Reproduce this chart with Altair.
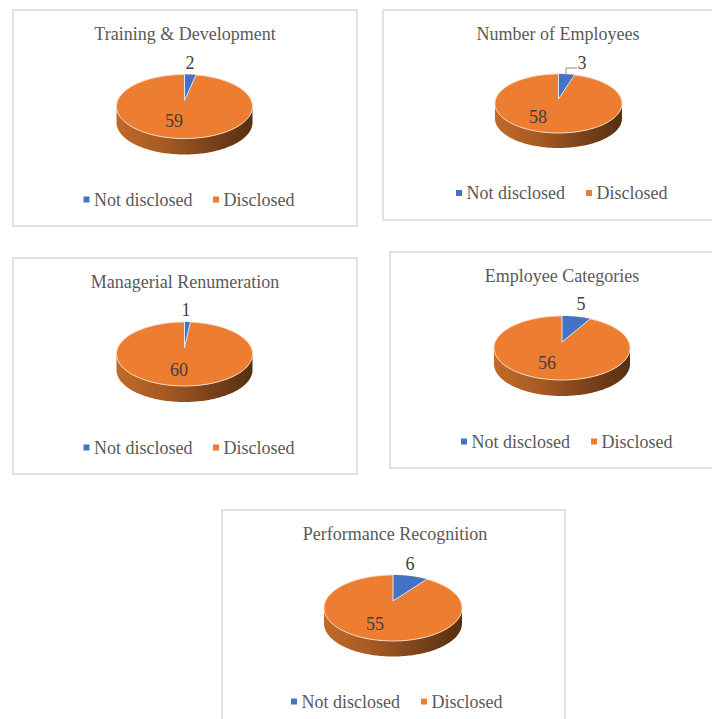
import altair as alt
import numpy as np
import pandas as pd

TITLES = ["Training & Development", "Number of Employees", "Managerial Renumeration",
          "Employee Categories", "Performance Recognition"]
NOT_DISCLOSED = [2, 3, 1, 5, 6]
DISCLOSED = [59, 58, 60, 56, 55]
LEGEND = ["Not disclosed", "Disclosed"]

BLUE = "#4472c4"
ORANGE = "#ed7d31"
GREY = "#595959"
DARK = "#404040"
SERIF = "Liberation Serif"

# layout of each panel, in page pixels
FRAMES = [(13, 10, 357, 226), (383, 10, 724, 220), (13, 258, 357, 474),
          (390, 252, 724, 468), (222, 510, 565, 724)]
PIES = [(184.5, 106.5, 68, 32, 16, 6), (558.5, 103.5, 63.5, 29.5, 15, 4.5),
        (184.5, 354, 68, 32, 16, 6), (562, 348, 68, 32, 16, 6),
        (393, 608, 69, 33, 15.5, 7)]
TITLE_POS = [(185, 33), (558, 33), (185, 281), (562, 275), (395, 533)]
SMALL_POS = [(190, 62), (582, 62), (186, 309), (581, 303), (410, 563)]
LARGE_POS = [(174, 120), (538, 116), (179, 369), (547, 362), (375, 623)]
LEGEND_POS = [(86.5, 216, 199.5), (459, 589, 193), (86.5, 216, 447.5), (464, 594, 441.5), (294, 424, 701.5)]
FORESHORTEN = 0.83

frames, sides, tops, wedges, edges, rims = [], [], [], [], [], []
titles, small, large, legend_txt, legend_sq = [], [], [], [], []
for p in range(5):
    x0, y0, x1, y1 = FRAMES[p]
    frames.append(dict(p=p, x=x0, x2=x1, y=y0, y2=y1))
    cx, cy, rx, ry, d, lift = PIES[p]
    t = np.linspace(-np.pi / 2, np.pi / 2, 121)
    xs = cx + rx * np.sin(t)
    half = ry * np.cos(t)
    for a, b in zip(xs, half):
        sides.append(dict(p=p, x=a, y=cy + b, y2=cy + b + d))
        tops.append(dict(p=p, x=a, y=cy - b, y2=cy + b))
    # blue slice, measured clockwise from 12 o'clock
    share = NOT_DISCLOSED[p] / (NOT_DISCLOSED[p] + DISCLOSED[p])
    theta = 2 * np.pi * share * FORESHORTEN
    ax, ay = cx, cy - lift
    rimx, rimy = cx + rx * np.sin(theta), cy - ry * np.cos(theta)
    for th in np.linspace(0, theta, 40):
        wx = cx + rx * np.sin(th)
        wedges.append(dict(p=p, x=wx, y=cy - ry * np.cos(th),
                           y2=ay + (rimy - ay) * (wx - ax) / (rimx - ax)))
    for i, (ex, ey) in enumerate([(cx, cy - ry), (ax, ay), (rimx, rimy)]):
        edges.append(dict(p=p, i=i, x=ex, y=ey))
    for i, a in enumerate(np.linspace(0, 2 * np.pi, 181)):
        rims.append(dict(p=p, i=i, x=cx + rx * np.sin(a), y=cy - ry * np.cos(a)))
    titles.append(dict(x=TITLE_POS[p][0], y=TITLE_POS[p][1], t=TITLES[p]))
    small.append(dict(x=SMALL_POS[p][0], y=SMALL_POS[p][1], t=str(NOT_DISCLOSED[p])))
    large.append(dict(x=LARGE_POS[p][0], y=LARGE_POS[p][1], t=str(DISCLOSED[p])))
    s1, s2, ly = LEGEND_POS[p]
    legend_sq.append(dict(x=s1, y=ly, c=LEGEND[0]))
    legend_sq.append(dict(x=s2, y=ly, c=LEGEND[1]))
    legend_txt.append(dict(x=s1 + 7.5, y=ly - 0.5, t=LEGEND[0]))
    legend_txt.append(dict(x=s2 + 7.5, y=ly - 0.5, t=LEGEND[1]))

# leader line of the "3" label in the second panel
leader = pd.DataFrame([dict(i=0, x=566, y=74), dict(i=1, x=566, y=68), dict(i=2, x=577, y=68)])

X = alt.X("x:Q", axis=None, scale=alt.Scale(domain=[8, 712], nice=False, zero=False))
Y = alt.Y("y:Q", axis=None, scale=alt.Scale(domain=[719, 8], nice=False, zero=False))
side_fill = alt.Gradient(gradient="linear", x1=0, x2=1, y1=0, y2=0, stops=[
    alt.GradientStop(offset=0, color="#c06a2a"),
    alt.GradientStop(offset=0.35, color="#a65a22"),
    alt.GradientStop(offset=0.7, color="#79411a"),
    alt.GradientStop(offset=1, color="#56300f"),
])

def text_layer(rows, size, color, align="center"):
    return alt.Chart(pd.DataFrame(rows)).mark_text(
        font=SERIF, fontSize=size, color=color, align=align, baseline="middle", dy=1.5
    ).encode(x=X, y=Y, text="t:N")

layers = [
    alt.Chart(pd.DataFrame(frames)).mark_rect(fill="white", stroke="#d9d9d9", strokeWidth=1.5).encode(
        x=X, x2="x2:Q", y=Y, y2="y2:Q", detail="p:N"),
    alt.Chart(pd.DataFrame(sides)).mark_area(color=side_fill).encode(x=X, y=Y, y2="y2:Q", detail="p:N"),
    alt.Chart(pd.DataFrame(tops)).mark_area(color=ORANGE).encode(x=X, y=Y, y2="y2:Q", detail="p:N"),
    alt.Chart(pd.DataFrame(rims)).mark_line(color="#f6d9c4", strokeWidth=1).encode(
        x=X, y=Y, detail="p:N", order="i:Q"),
    alt.Chart(pd.DataFrame(wedges)).mark_area(color=BLUE).encode(x=X, y=Y, y2="y2:Q", detail="p:N"),
    alt.Chart(pd.DataFrame(edges)).mark_line(color="#dce6f4", strokeWidth=1).encode(
        x=X, y=Y, detail="p:N", order="i:Q"),
    alt.Chart(leader).mark_line(color="#8c8c8c", strokeWidth=1).encode(x=X, y=Y, order="i:Q"),
    alt.Chart(pd.DataFrame(legend_sq)).mark_square(size=36, opacity=1).encode(
        x=X, y=Y,
        color=alt.Color("c:N", legend=None, scale=alt.Scale(domain=LEGEND, range=[BLUE, ORANGE]))),
    text_layer(titles, 18, GREY),
    text_layer(small, 18, DARK),
    text_layer(large, 18, DARK),
    text_layer(legend_txt, 18, GREY, "left"),
]

chart = alt.layer(*layers).properties(
    width=704, height=711, padding=0, background="white",
    autosize=alt.AutoSizeParams(type="none"),
).configure_view(strokeWidth=0)

chart.save("out.html", embed_options={"renderer": "svg", "actions": False})
